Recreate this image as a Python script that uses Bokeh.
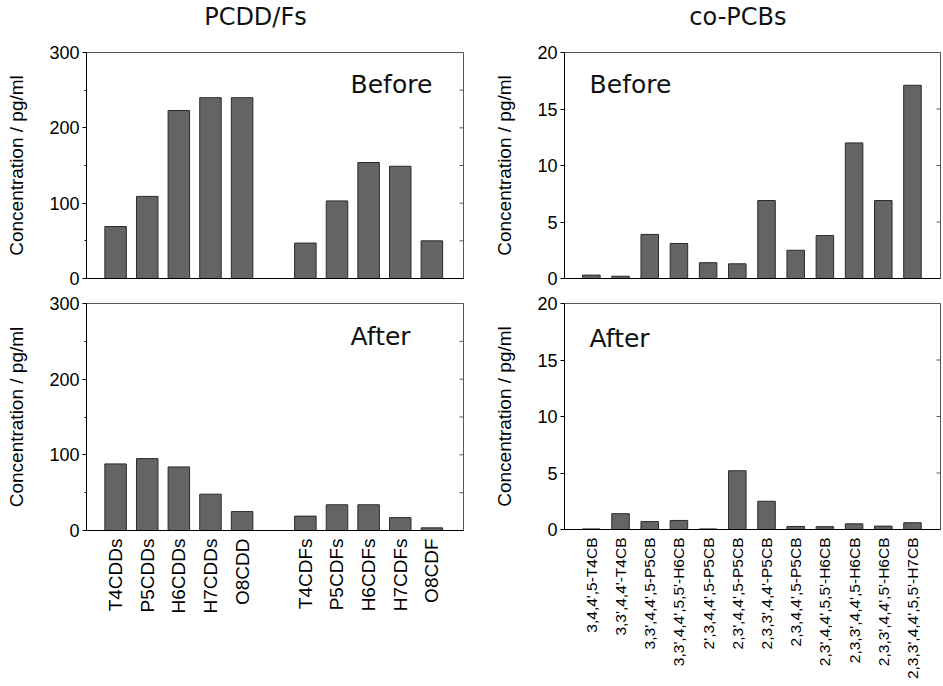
import numpy as np
from bokeh.plotting import figure
from bokeh.models import Range1d, FixedTicker
from bokeh.layouts import column, row
from bokeh.embed import file_html
from bokeh.resources import INLINE

# ---------------- data ----------------
pcdd_labels = ["T4CDDs", "P5CDDs", "H6CDDs", "H7CDDs", "O8CDD",
               "T4CDFs", "P5CDFs", "H6CDFs", "H7CDFs", "O8CDF"]
pcdd_before = [69, 109, 223, 240, 240, 47, 103, 154, 149, 50]
pcdd_after = [88, 95, 84, 48, 25, 19, 34, 34, 17, 3.5]

pcb_labels = ["3,4,4',5-T4CB", "3,3',4,4'-T4CB", "3,3',4,4',5-P5CB",
              "3,3',4,4',5,5'-H6CB", "2',3,4,4',5-P5CB", "2,3',4,4',5-P5CB",
              "2,3,3',4,4'-P5CB", "2,3,4,4',5-P5CB", "2,3',4,4',5,5'-H6CB",
              "2,3,3',4,4',5-H6CB", "2,3,3',4,4',5'-H6CB", "2,3,3',4,4',5,5'-H7CB"]
pcb_before = [0.3, 0.2, 3.9, 3.1, 1.4, 1.3, 6.9, 2.5, 3.8, 12.0, 6.9, 17.1]
pcb_after = [0.05, 1.4, 0.7, 0.8, 0.05, 5.2, 2.5, 0.27, 0.25, 0.5, 0.3, 0.6]

pcdd_yticks = [0, 100, 200, 300]
pcdd_minor = [50, 150, 250]
pcdd_rticks = [0, 50, 100, 150, 200, 250, 300]
pcb_yticks = [0, 5, 10, 15, 20]

titles = ["PCDD/Fs", "co-PCBs"]

# positions: PCDDs, a one-slot gap, then PCDFs
pcdd_x = [i + 1 + (1 if i >= 5 else 0) for i in range(len(pcdd_labels))]
pcb_x = [i + 1 for i in range(len(pcb_labels))]

TICK_FONT = "Liberation Sans"
TEXT_FONT = "DejaVu Sans"
BAR_FILL = "#646464"
BAR_LINE = "#2a2a2a"
FRAME = "#555555"


def panel(xs, vals, labels, xr, yr, yticks, yminor, rticks, bar_w, fw, fh,
          bl, bt, bb, br, show_x, xfs):
    p = figure(frame_width=fw, frame_height=fh,
               x_range=Range1d(*xr), y_range=Range1d(*yr),
               output_backend="svg", toolbar_location=None,
               min_border_left=bl, min_border_top=bt,
               min_border_bottom=bb, min_border_right=br,
               background_fill_color="white", border_fill_color="white")
    p.outline_line_color = FRAME
    p.outline_line_width = 1
    p.grid.visible = False

    p.vbar(x=xs, top=vals, bottom=0, width=bar_w,
           fill_color=BAR_FILL, line_color=BAR_LINE, line_width=1)

    # inward ticks along the right edge of the frame
    p.ray(x=[xr[1]] * len(rticks), y=rticks, length=4, length_units="screen",
          angle=np.pi, line_color=FRAME, line_width=1)

    ya = p.yaxis[0]
    ya.ticker = FixedTicker(ticks=yticks, minor_ticks=yminor)
    ya.major_tick_out = 4
    ya.major_tick_in = 0
    ya.minor_tick_out = 2
    ya.minor_tick_in = 0
    ya.axis_line_color = "black"
    ya.major_tick_line_color = "black"
    ya.minor_tick_line_color = "black"
    ya.major_label_text_font = TICK_FONT
    ya.major_label_text_font_size = "18px"
    ya.major_label_text_color = "black"
    ya.major_label_standoff = 3
    ya.axis_label = "Concentration / pg/ml"
    ya.axis_label_text_font = TICK_FONT
    ya.axis_label_text_font_style = "normal"
    ya.axis_label_text_font_size = "19px"
    ya.axis_label_text_color = "black"
    ya.axis_label_standoff = 19

    xa = p.xaxis[0]
    xa.axis_line_color = "black"
    xa.major_tick_out = 0
    xa.major_tick_in = 0
    xa.minor_tick_out = 0
    xa.minor_tick_in = 0
    if show_x:
        xa.ticker = FixedTicker(ticks=xs)
        xa.major_label_overrides = {x: lab for x, lab in zip(xs, labels)}
        xa.major_label_orientation = np.pi / 2
        xa.major_label_text_font = TICK_FONT
        xa.major_label_text_font_size = xfs
        xa.major_label_text_color = "black"
        xa.major_label_standoff = 8
    else:
        xa.ticker = FixedTicker(ticks=[])
        xa.major_label_standoff = 0
    return p


def tag(p, text, x, y):
    p.text(x=[x], y=[y], text=[text], text_font_size="25px",
           text_font={"value": TEXT_FONT}, text_color="#111111",
           text_baseline="alphabetic", text_align="left")


def title_strip(text, w, xc):
    t = figure(frame_width=w, frame_height=42,
               x_range=Range1d(0, 1), y_range=Range1d(0, 1),
               output_backend="svg", toolbar_location=None,
               min_border_left=0, min_border_right=0,
               min_border_top=0, min_border_bottom=0,
               x_axis_type=None, y_axis_type=None,
               background_fill_color="white", border_fill_color="white")
    t.outline_line_color = None
    t.grid.visible = False
    t.text(x=[xc], y=[0.6], text=[text], text_font_size="24px",
           text_font={"value": TEXT_FONT}, text_color="#111111",
           text_baseline="middle", text_align="center")
    return t


L_XR = (0.08, 12.0)
R_XR = (0.08, 12.96)

lt = panel(pcdd_x, pcdd_before, pcdd_labels, L_XR, (0, 300), pcdd_yticks,
           pcdd_minor, pcdd_rticks, 0.68, 377, 226, 86, 10, 10, 10, False, "18px")
lb = panel(pcdd_x, pcdd_after, pcdd_labels, L_XR, (0, 300), pcdd_yticks,
           pcdd_minor, pcdd_rticks, 0.68, 377, 227, 86, 11, 158, 10, True, "19px")
rt = panel(pcb_x, pcb_before, pcb_labels, R_XR, (0, 20), pcb_yticks,
           [], pcb_yticks, 0.6, 376, 226, 91, 10, 10, 1, False, "15.5px")
rb = panel(pcb_x, pcb_after, pcb_labels, R_XR, (0, 20), pcb_yticks,
           [], pcb_yticks, 0.6, 376, 226, 91, 15, 155, 1, True, "15.5px")

tag(lt, "Before", 8.43, 258)
tag(lb, "After", 8.43, 256)
tag(rt, "Before", 0.94, 17.2)
tag(rb, "After", 0.94, 16.9)

tl = title_strip(titles[0], 473, 0.539)
tr = title_strip(titles[1], 468, 0.565)

layout = column(row(tl, tr), row(lt, rt), row(lb, rb))

open("out.html", "w").write(file_html(layout, INLINE))
